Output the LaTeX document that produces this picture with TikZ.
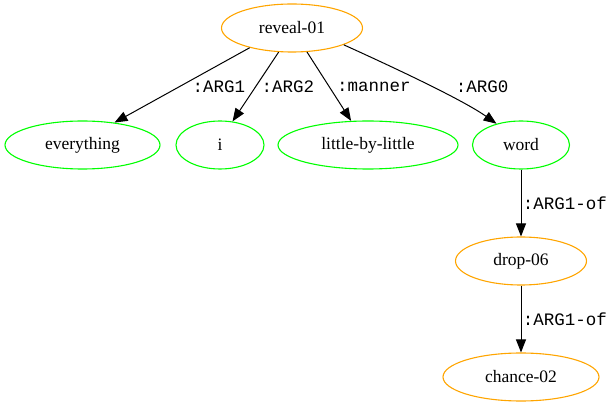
\documentclass[tikz,border=0pt]{standalone}
\usepackage{fontspec}
\setmainfont{Liberation Serif}
\setmonofont{Liberation Mono}
\usetikzlibrary{shapes.geometric,arrows.meta}
\definecolor{amrorange}{RGB}{255,165,0}
\definecolor{amrgreen}{RGB}{0,255,0}

\begin{document}
\begin{tikzpicture}[x=1pt,y=1pt,
concept/.style={draw=amrorange,ellipse,line width=1.1pt,inner sep=0pt,
    minimum height=48pt,font=\fontsize{17.5}{20}\selectfont},
const/.style={concept,draw=amrgreen},
rel/.style={inner sep=0pt,font=\fontsize{17.5}{20}\selectfont\ttfamily},
edge/.style={-{Triangle[length=13pt,width=10pt]},line width=1pt}]
\useasboundingbox (0,0) rectangle (616,407);
% concepts
\node (reveal) [concept,minimum width=141pt] at (292,379) {reveal-01};
\node (everything) [const,minimum width=155pt] at (82.5,262) {everything};
\node (i) [const,minimum width=88pt] at (220,262) {i};
\node (little) [const,minimum width=180pt] at (368,262) {little-by-little};
\node (word) [const,minimum width=97pt] at (521,262) {word};
\node (drop) [concept,minimum width=131pt] at (521,146) {drop-06};
\node (chance) [concept,minimum width=156pt] at (521,30) {chance-02};
% relations
\draw[edge] (reveal.205) -- (everything.35);
\draw[edge] (reveal.241) -- (i.62);
\draw[edge] (reveal.302) -- (little.125);
\draw[edge] (reveal.-18) .. controls (395,339) and (463,307) .. (word.139);
\draw[edge] (word) -- (drop);
\draw[edge] (drop) -- (chance);
\node (arg1) [rel] at (219,320) {:ARG1};
\node (arg2) [rel] at (288,320) {:ARG2};
\node (manner) [rel] at (374,320) {:manner};
\node (arg0) [rel] at (482,320) {:ARG0};
\node (arg1of) [rel] at (565,204) {:ARG1-of};
\node (arg1ofb) [rel] at (565,88) {:ARG1-of};
\end{tikzpicture}
\end{document}
